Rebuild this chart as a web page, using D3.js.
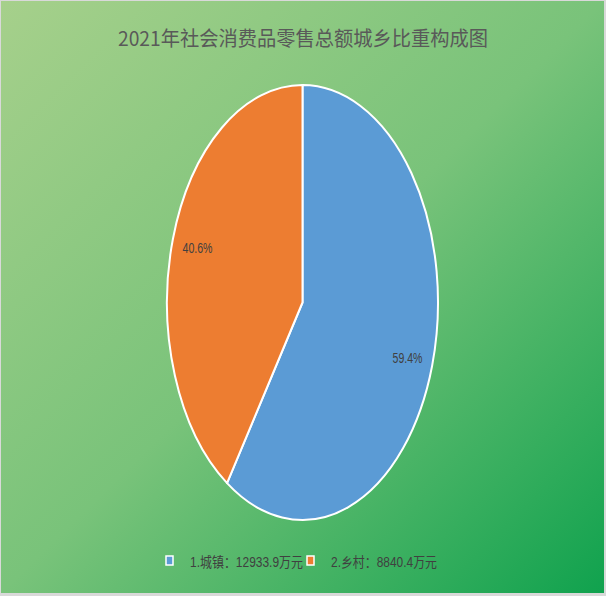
<!DOCTYPE html>
<html><head><meta charset="utf-8">
<script src="https://cdn.jsdelivr.net/npm/d3@7"></script>
<style>html,body{margin:0;padding:0;background:#d9d9d9;}svg{display:block;}</style>
</head><body>
<script>
const title = "2021年社会消费品零售总额城乡比重构成图";
const categories = ["1.城镇", "2.乡村"];
const values = [12933.9, 8840.4];
const unit = "万元";
const colors = ["#5b9bd5", "#ed7d31"];

const W = 606, H = 596;
const svg = d3.select("body").append("svg").attr("width", W).attr("height", H);
const defs = svg.append("defs");
const grad = defs.append("linearGradient").attr("id", "bg")
  .attr("x1", "0").attr("y1", "0").attr("x2", "1").attr("y2", "1");
grad.append("stop").attr("offset", "0").attr("stop-color", "#a6d08b");
grad.append("stop").attr("offset", "0.5").attr("stop-color", "#79c37a");
grad.append("stop").attr("offset", "1").attr("stop-color", "#10a24e");

svg.append("rect").attr("width", W).attr("height", H).attr("fill", "#d9d9d9");
svg.append("rect").attr("x", 1).attr("y", 1).attr("width", 603).attr("height", 592).attr("fill", "url(#bg)");

svg.append("text").attr("x", 303).attr("y", 46).attr("text-anchor", "middle")
  .attr("font-family", "'Noto Sans CJK SC', sans-serif").attr("font-size", 20)
  .attr("textLength", 370).attr("lengthAdjust", "spacingAndGlyphs")
  .attr("fill", "#595959").text(title);

const cx = 302.5, cy = 302.5, rx = 135.5, ry = 217.5, R = 100;
const total = d3.sum(values);
const pie = d3.pie().sort(null).value(d => d)(values);
const arc = d3.arc().innerRadius(0).outerRadius(R);
const g = svg.append("g").attr("transform", `translate(${cx},${cy})`);
const sg = g.append("g").attr("transform", `scale(${rx / R},${ry / R})`);
sg.selectAll("path").data(pie).join("path")
  .attr("d", arc).attr("fill", (d, i) => colors[i])
  .attr("stroke", "#fff").attr("stroke-width", 2)
  .attr("vector-effect", "non-scaling-stroke").attr("stroke-linejoin", "round");

const fx = 0.81, fy = 0.875;
g.selectAll("text.lbl").data(pie).join("text").attr("class", "lbl")
  .attr("x", d => { const a = (d.startAngle + d.endAngle) / 2; return Math.sin(a) * rx * fx; })
  .attr("y", d => { const a = (d.startAngle + d.endAngle) / 2; return -Math.cos(a) * ry * fy; })
  .attr("dy", "0.36em").attr("text-anchor", "middle")
  .attr("font-family", "'Liberation Sans', sans-serif").attr("font-size", 15)
  .attr("textLength", 30).attr("lengthAdjust", "spacingAndGlyphs")
  .attr("fill", "#404040")
  .text(d => (d.data / total * 100).toFixed(1) + "%");

// legend
const legX = [166, 307];
const legLen = [113, 106];
const leg = svg.append("g");
categories.forEach((c, i) => {
  const lg = leg.append("g").attr("transform", `translate(${legX[i]},556)`);
  lg.append("rect").attr("x", 0).attr("y", 0).attr("width", 7).attr("height", 9)
    .attr("fill", colors[i]).attr("stroke", "#fff").attr("stroke-width", 1.5);
  lg.append("text").attr("x", 24).attr("y", 11)
    .attr("font-family", "'Liberation Sans', 'Noto Sans CJK SC', sans-serif").attr("font-size", 14)
    .attr("textLength", legLen[i]).attr("lengthAdjust", "spacingAndGlyphs")
    .attr("fill", "#404040").text(c + "：" + values[i] + unit);
});
</script>
</body></html>
